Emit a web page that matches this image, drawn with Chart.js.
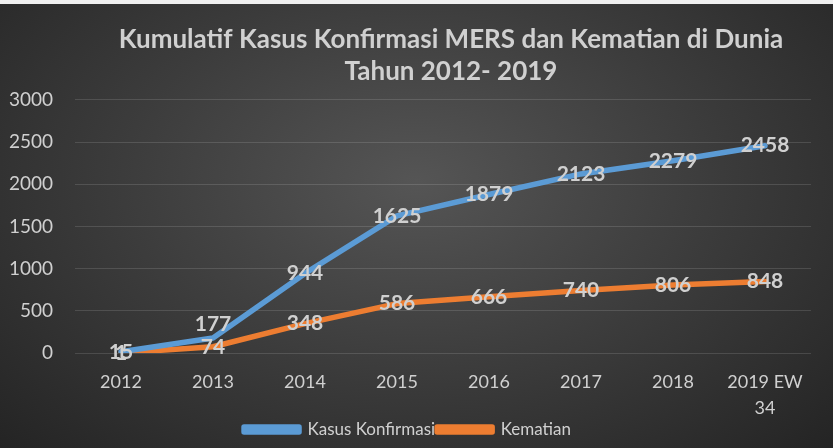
<!DOCTYPE html>
<html>
<head>
<meta charset="utf-8">
<script src="https://cdn.jsdelivr.net/npm/chart.js@4"></script>
<style>
  body { margin: 0; background: #f0f0f0; }
  #wrap {
    position: absolute; left: 0; top: 4px; width: 833px; height: 444px;
    background: radial-gradient(ellipse at 50% 40%, #555555 0%, #3c3c3c 50%, #242424 100%);
  }
</style>
</head>
<body>
<div id="wrap"><canvas id="c" width="833" height="444"></canvas></div>
<script>
const YEARS = ['2012', '2013', '2014', '2015', '2016', '2017', '2018', ['2019 EW', '34']];
const KASUS = [15, 177, 944, 1625, 1879, 2123, 2279, 2458];
const KEMATIAN = [1, 74, 348, 586, 666, 740, 806, 848];
const TITLE = ['Kumulatif Kasus Konfirmasi MERS dan Kematian di Dunia', 'Tahun 2012- 2019'];

const FONT = 'Lato, "Open Sans", sans-serif';
const TEXT = '#d0d0d0';
const TITLE_FONT = { family: FONT, size: 26, weight: 'bold', lineHeight: 1.23 };

// value labels drawn at each point
const pointLabels = {
  id: 'pointLabels',
  afterDatasetsDraw(chart) {
    const ctx = chart.ctx;
    const metas = chart.data.datasets.map((d, i) => chart.getDatasetMeta(i));
    ctx.save();
    ctx.font = 'bold 21px ' + FONT;
    ctx.fillStyle = TEXT;
    ctx.textAlign = 'center';
    ctx.textBaseline = 'middle';
    metas.forEach((meta, di) => {
      meta.data.forEach((pt, i) => {
        let y = pt.y;
        if (di === 0) {
          const dy = metas[1].data[i].y - pt.y;
          if (dy > 4 && dy < 24) y -= 14;
        }
        ctx.fillText(chart.data.datasets[di].data[i], pt.x, y);
      });
    });
    ctx.restore();
  }
};

// title sits a little right of the canvas centre in the original
const offsetTitle = {
  id: 'offsetTitle',
  afterDraw(chart) {
    const ctx = chart.ctx;
    const tb = chart.titleBlock;
    const lh = TITLE_FONT.size * TITLE_FONT.lineHeight;
    ctx.save();
    ctx.font = 'bold ' + TITLE_FONT.size + 'px ' + FONT;
    ctx.fillStyle = TEXT;
    ctx.textAlign = 'center';
    ctx.textBaseline = 'middle';
    TITLE.forEach((t, i) => ctx.fillText(t, 451, tb.top + lh * (i + 0.5)));
    ctx.restore();
  }
};

new Chart(document.getElementById('c'), {
  type: 'line',
  data: {
    labels: YEARS,
    datasets: [
      { label: 'Kasus Konfirmasi', data: KASUS, borderColor: '#5b9bd5', backgroundColor: '#5b9bd5' },
      { label: 'Kematian', data: KEMATIAN, borderColor: '#ed7d31', backgroundColor: '#ed7d31' }
    ]
  },
  options: {
    responsive: false,
    animation: false,
    layout: { padding: { left: 4, right: 22, top: 20, bottom: 0 } },
    elements: {
      line: { borderWidth: 5.5, tension: 0, borderCapStyle: 'round', borderJoinStyle: 'round' },
      point: { radius: 0 }
    },
    scales: {
      x: {
        offset: true,
        grid: { display: false, drawTicks: false },
        border: { display: false },
        ticks: { color: TEXT, font: { family: FONT, size: 18, lineHeight: 1.45 }, padding: 16, maxRotation: 0 },
        afterFit(scale) { scale.height = 66; }
      },
      y: {
        min: 0, max: 3000,
        ticks: {
          stepSize: 500, color: TEXT, font: { family: FONT, size: 19 }, padding: 22,
          callback: v => String(v)
        },
        grid: { color: 'rgba(255,255,255,0.13)', drawTicks: false },
        border: { display: false },
        afterFit(scale) { scale.width = 71; }
      }
    },
    plugins: {
      title: {
        display: true,
        text: TITLE,
        color: 'rgba(0,0,0,0)',
        font: TITLE_FONT,
        padding: { top: 0, bottom: 12 }
      },
      legend: {
        position: 'bottom',
        labels: {
          color: TEXT,
          font: { family: FONT, size: 17 },
          boxWidth: 55,
          boxHeight: 5,
          padding: 2
        }
      },
      tooltip: { enabled: false }
    }
  },
  plugins: [pointLabels, offsetTitle]
});
</script>
</body>
</html>
